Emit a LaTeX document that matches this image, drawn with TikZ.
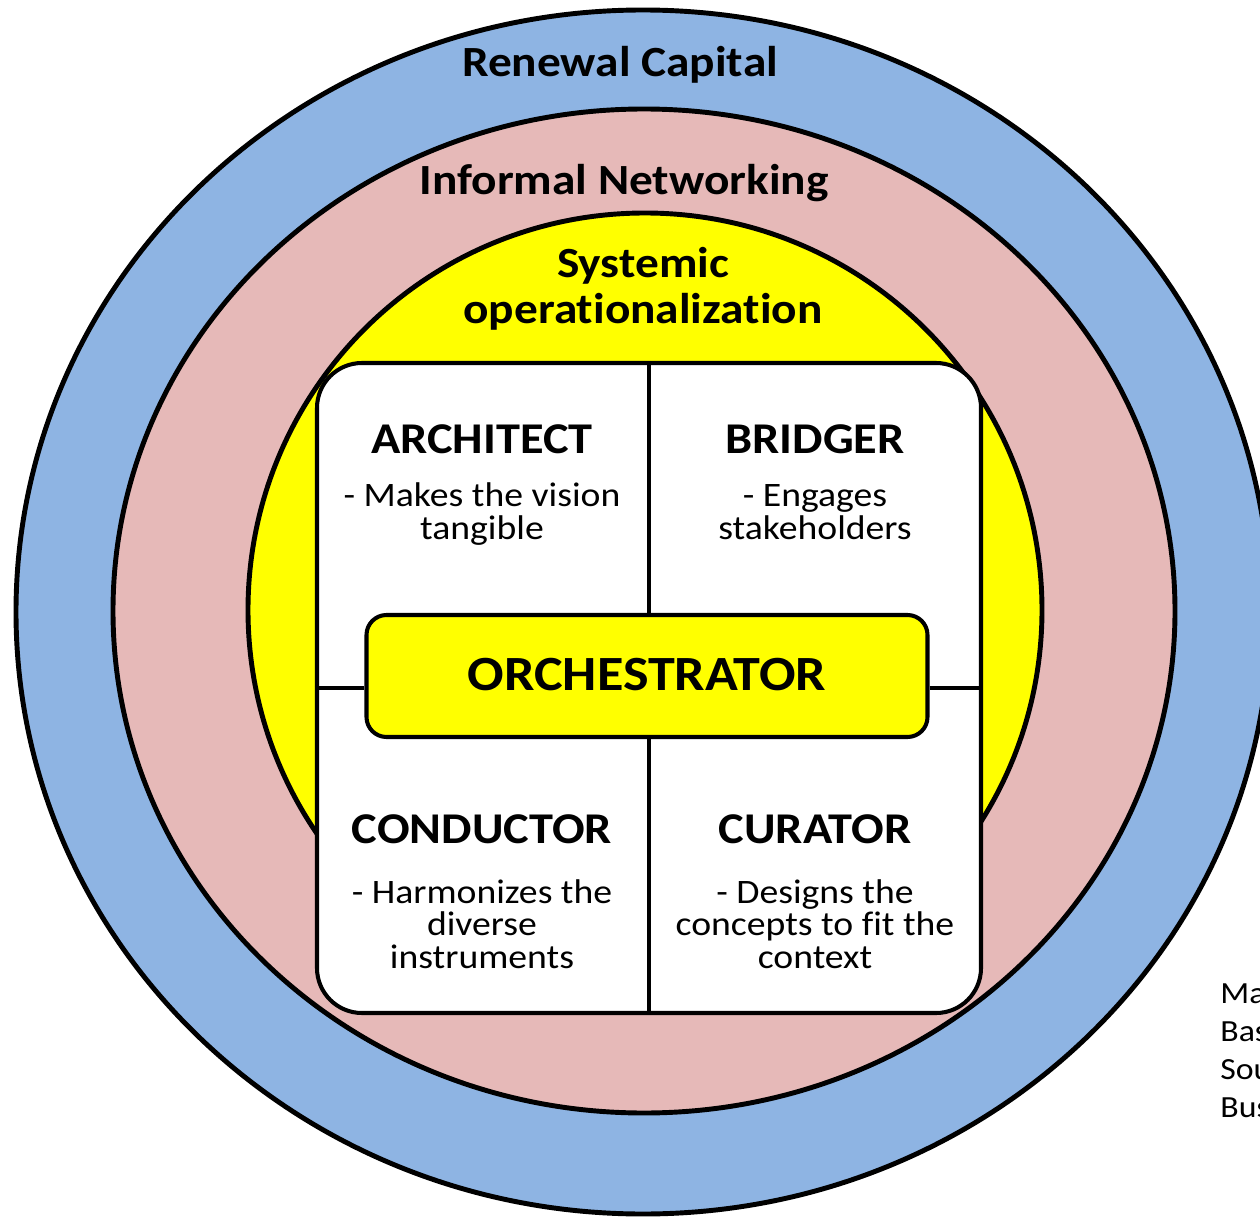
\documentclass[tikz,border=0pt]{standalone}
\usepackage{fontspec}
\setmainfont[FakeStretch=1.1, Ligatures={NoCommon}]{Carlito}
\definecolor{capblue}{HTML}{8EB4E3}
\definecolor{netpink}{HTML}{E6B9B8}
\definecolor{sysyellow}{HTML}{FFFF00}

\begin{document}
\begin{tikzpicture}[
    x = 0.2mm, y = -0.2mm,
    ring/.style = {draw = black, line width = 2.8pt},
    frame/.style = {draw = black, line width = 2.3pt},
    split/.style = {line width = 1.9pt},
    head/.style = {font = \fontsize{24.5}{26.6}\selectfont\bfseries, align = center, inner sep = 0pt, anchor = base},
    role/.style = {font = \fontsize{25}{25}\selectfont\bfseries, inner sep = 0pt, anchor = base},
    duty/.style = {font = \fontsize{19.5}{18.3}\selectfont, align = center, inner sep = 0pt, anchor = base},
    note/.style = {font = \fontsize{17.5}{21.5}\selectfont, align = left, inner sep = 0pt, anchor = base west},
]

\clip (0,0) rectangle (1260,1217);

% rings
\draw[ring, fill = capblue] (643,612) ellipse [x radius = 627, y radius = 602];
\draw[ring, fill = netpink] (644,611) ellipse [x radius = 531, y radius = 502];
\draw[ring, fill = sysyellow] (645,610) circle [radius = 397];

\node[head] (capital) at (620,77) {Renewal Capital};
\node[head] (network) at (624,195) {Informal Networking};
\node[head] (system) at (643,324) {Systemic\\operationalization};

% roles
\node[frame, fill = white, rounded corners = 9mm, minimum width = 132.8mm, minimum height = 130mm] (board) at (649,688) {};
\node[frame, fill = sysyellow, rounded corners = 4mm, minimum width = 112.2mm, minimum height = 24.4mm,
      font = \fontsize{28}{28}\selectfont\bfseries] (orch) at (647,676) {\raisebox{0.8mm}{ORCHESTRATOR}};

\draw[split] (board.north) -- (board.north |- orch.north);
\draw[split] (board.south |- orch.south) -- (board.south);
\draw[split] (board.west) -- (board.west -| orch.west);
\draw[split] (orch.east |- board.east) -- (board.east);

\node[role] (architect) at (482,453) {ARCHITECT};
\node[duty] (archtxt) at (482,539) {- Makes the vision\\tangible};
\node[role] (bridger) at (815,453) {BRIDGER};
\node[duty] (bridtxt) at (815,539) {- Engages\\stakeholders};
\node[role] (conductor) at (482,843) {CONDUCTOR};
\node[duty] (condtxt) at (482,968) {- Harmonizes the\\diverse\\instruments};
\node[role] (curator) at (815,843) {CURATOR};
\node[duty] (curatxt) at (815,968) {- Designs the\\concepts to fit the\\context};

\node[note] (source) at (1220,1117) {Ma\\Bas\\Sou\\Bus};

\end{tikzpicture}
\end{document}
